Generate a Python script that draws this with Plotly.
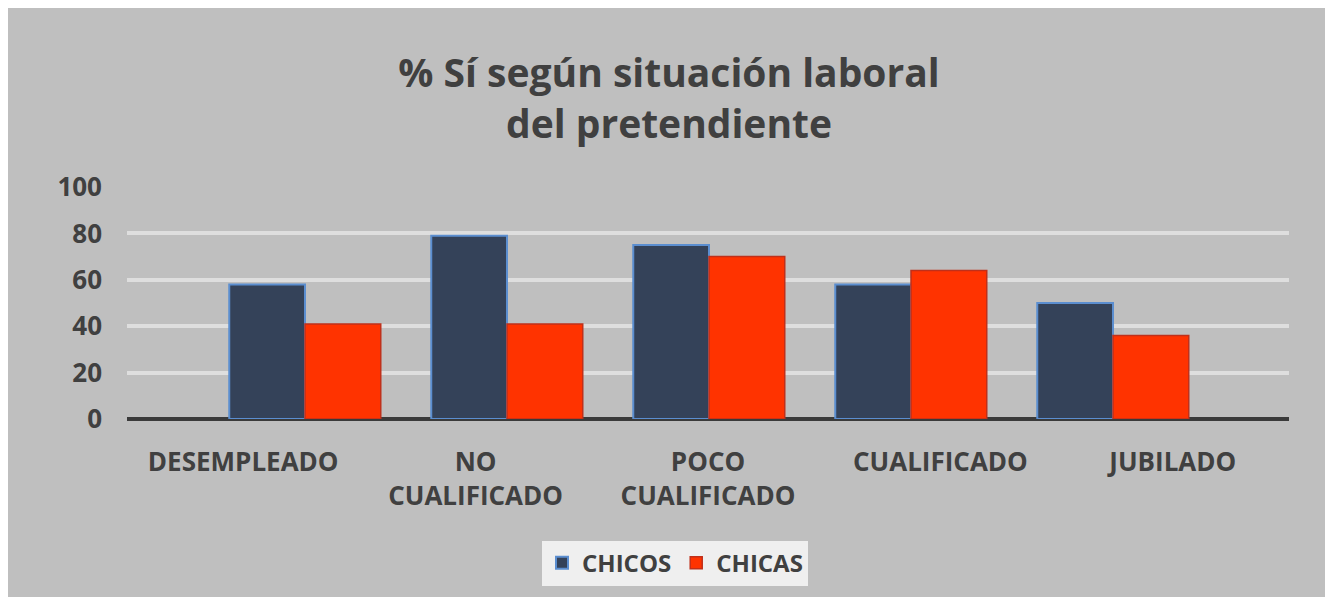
import plotly.graph_objects as go

categories = ["DESEMPLEADO", "NO<br>CUALIFICADO", "POCO<br>CUALIFICADO", "CUALIFICADO", "JUBILADO"]
chicos = [58, 79, 75, 58, 50]
chicas = [41, 41, 70, 64, 36]
y_ticks = [0, 20, 40, 60, 80, 100]

# page body has an 8px margin: figure coords = screen coords - 8
OFF = 8
W, H = 1317, 589
L = 127 - OFF
R = W - (1289 - OFF)
T = 187 - OFF
B = H - (422 - OFF)
pw = W - L - R
ph = H - T - B

FONT = "'Open Sans', 'Noto Sans', sans-serif"
TXT = "#404040"

# bar positions: spacing ~202px, first centre at screen x=305
step = 202.0
off = (305 - 127) / step
x_range = [-off, -off + pw / step]
idx = list(range(len(categories)))

fig = go.Figure()
fig.add_trace(go.Bar(
    x=idx, y=chicos, name="CHICOS",
    marker=dict(color="#344259", line=dict(color="#5b8ed0", width=2)),
    xaxis="x", yaxis="y",
))
fig.add_trace(go.Bar(
    x=idx, y=chicas, name="CHICAS",
    marker=dict(color="#ff3300", line=dict(color="#c0301a", width=1.5)),
    xaxis="x", yaxis="y",
))
# invisible trace on category-label axis
fig.add_trace(go.Scatter(
    x=categories, y=[0] * len(categories), mode="markers",
    marker=dict(opacity=0), showlegend=False, hoverinfo="skip",
    xaxis="x2", yaxis="y",
))


def py2paper(screen_y):
    return (H - B - (screen_y - OFF)) / ph


def px2paper(screen_x):
    return (screen_x - OFF - L) / pw


fig.update_layout(
    width=W, height=H,
    margin=dict(l=L, r=R, t=T, b=B, pad=0),
    paper_bgcolor="#bfbfbf",
    plot_bgcolor="rgba(0,0,0,0)",
    barmode="group", bargap=0.25, bargroupgap=0.0,
    title=dict(
        text="% Sí según situación laboral<br>del pretendiente",
        x=(669 - OFF) / W, xref="container", xanchor="center",
        y=1 - 79 / H, yanchor="top",
        font=dict(family=FONT, size=39, color=TXT, weight="bold"),
    ),
    font=dict(family=FONT, color=TXT),
    xaxis=dict(range=x_range, showticklabels=False, showgrid=False,
               zeroline=False, showline=False, fixedrange=True),
    xaxis2=dict(overlaying="x", side="bottom", anchor="y", type="category",
                range=[-0.5, len(categories) - 0.5], showgrid=False,
                showline=False, zeroline=False, ticks="",
                ticklabelstandoff=25,
                tickfont=dict(family=FONT, size=26, color=TXT, weight="bold")),
    yaxis=dict(range=[0, 100], tickvals=y_ticks, showgrid=True,
               gridcolor="#dedede", gridwidth=4,
               zeroline=True, zerolinecolor="#3a3a3a", zerolinewidth=4,
               showline=False, ticks="", ticklabelstandoff=24,
               tickfont=dict(family=FONT, size=26, color=TXT, weight="bold")),
    legend=dict(
        orientation="h", x=px2paper(675), xanchor="center",
        y=py2paper(568), yanchor="middle",
        bgcolor="#efefef", borderwidth=0,
        font=dict(family=FONT, size=24, color=TXT, weight="bold"),
        itemwidth=30, traceorder="normal",
    ),
    showlegend=True,
)

fig.write_html("out.html")
